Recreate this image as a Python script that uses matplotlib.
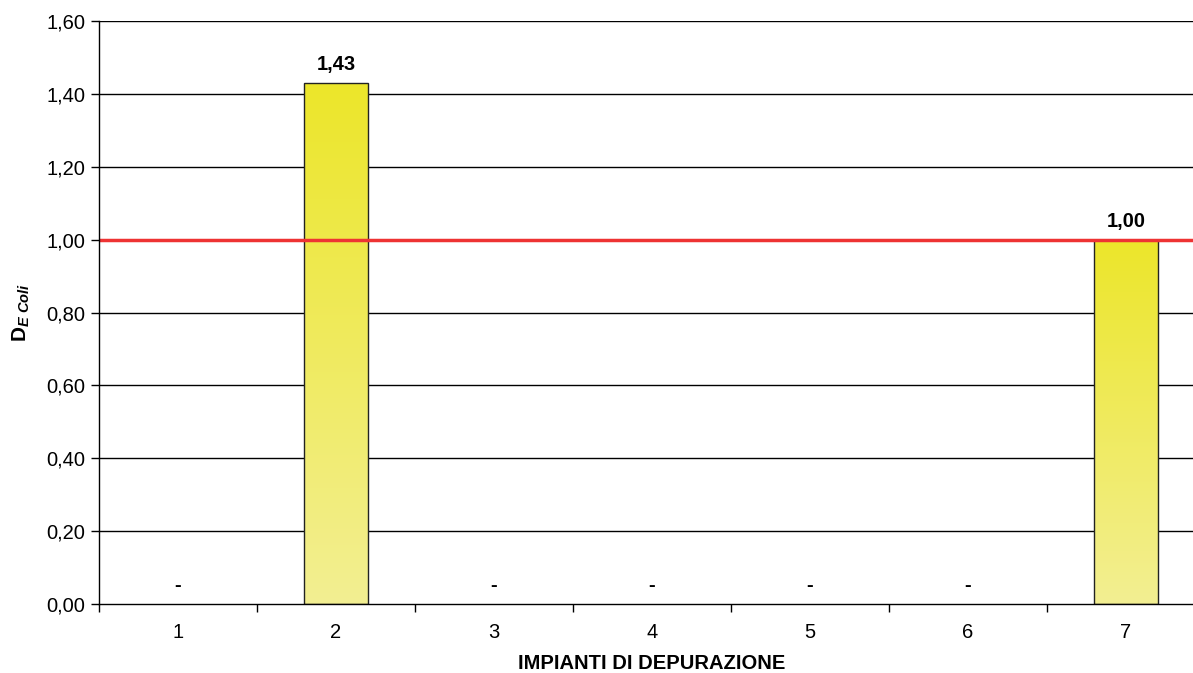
import matplotlib
matplotlib.use("Agg")
import matplotlib.pyplot as plt
import numpy as np
from matplotlib.ticker import FuncFormatter, FixedLocator

plt.rcParams["font.family"] = ["Liberation Sans", "DejaVu Sans"]
plt.rcParams["mathtext.fontset"] = "custom"
plt.rcParams["mathtext.rm"] = "Liberation Sans"
plt.rcParams["mathtext.bf"] = "Liberation Sans:weight=bold"
plt.rcParams["mathtext.it"] = "Liberation Sans:style=italic:weight=bold"

# Disinfection index per treatment plant
impianti = ["1", "2", "3", "4", "5", "6", "7"]
d_ecoli = [0.0, 1.43, 0.0, 0.0, 0.0, 0.0, 1.00]
limite = 1.00
y_ticks = [0.0, 0.2, 0.4, 0.6, 0.8, 1.0, 1.2, 1.4, 1.6]

FS = 14.5

fig = plt.figure(figsize=(11.93, 6.73), dpi=100)
ax = fig.add_axes([0.083, 0.1025, 0.927, 0.866])

x = np.arange(len(impianti))
width = 0.405

# horizontal grid
for t in y_ticks[1:]:
    ax.axhline(t, color="black", lw=1.0, zorder=1)

# vertical gradient for the bars (saturated yellow at top, pale at bottom)
top_c = np.array([0xEC, 0xE6, 0x2A]) / 255
bot_c = np.array([0xF3, 0xEF, 0x92]) / 255
grad = np.linspace(0, 1, 256)[:, None]
img = bot_c[None, None, :] * (1 - grad[..., None]) + top_c[None, None, :] * grad[..., None]

bars = ax.bar(x, d_ecoli, width=width, color="none", edgecolor="#222222", lw=1.0, zorder=3)
for b, v in zip(bars, d_ecoli):
    if v > 0:
        x0 = b.get_x()
        im = ax.imshow(img, extent=[x0, x0 + width, 0, v], origin="lower",
                       aspect="auto", zorder=2)
        im.set_clip_path(b)
    else:
        b.set_linewidth(0)

ax.set_xlim(-0.5, len(impianti) - 0.5)
ax.set_ylim(0, 1.6)

# limit line
ax.axhline(limite, color="#EE3333", lw=2.5, zorder=4)

# value labels
for xi, v in zip(x, d_ecoli):
    if v > 0:
        ax.text(xi, v + 0.025, f"{v:.2f}".replace(".", ","), ha="center", va="bottom",
                fontsize=FS, fontweight="bold", zorder=5)
    else:
        ax.text(xi, 0.05, "-", ha="center", va="center",
                fontsize=FS, fontweight="bold", zorder=5)

ax.set_yticks(y_ticks)
ax.yaxis.set_major_formatter(FuncFormatter(lambda v, p: f"{v:.2f}".replace(".", ",")))
ax.set_xticks(x)
ax.set_xticklabels(impianti)
ax.xaxis.set_minor_locator(FixedLocator(np.arange(-0.5, len(impianti), 1.0)))
ax.tick_params(axis="x", which="major", length=0, pad=14, labelsize=FS)
ax.tick_params(axis="x", which="minor", length=6, width=1.0, direction="out")
ax.tick_params(axis="y", length=6, width=1.0, direction="out", labelsize=FS, pad=4)

for s in ["top", "right"]:
    ax.spines[s].set_visible(False)
for s in ["left", "bottom"]:
    ax.spines[s].set_linewidth(1.0)
    ax.spines[s].set_zorder(6)

ax.set_xlabel("IMPIANTI DI DEPURAZIONE", fontsize=FS, fontweight="bold", labelpad=8)
ax.set_ylabel(r"$\mathbf{D}_{\mathit{E\ Coli}}$", fontsize=15, labelpad=10)

fig.savefig("out.png", dpi=100)
